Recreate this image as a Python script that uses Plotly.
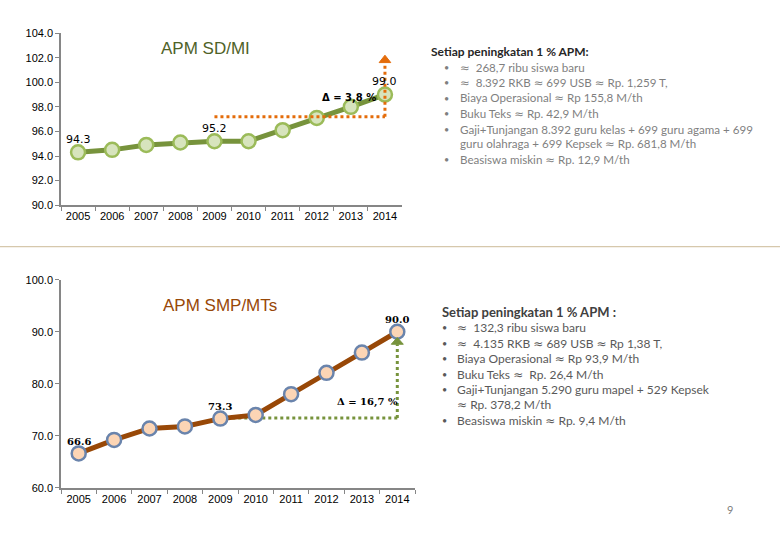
import plotly.graph_objects as go

W, H = 780, 540

years = ["2005", "2006", "2007", "2008", "2009", "2010", "2011", "2012", "2013", "2014"]
apm_sd = [94.3, 94.5, 94.9, 95.1, 95.2, 95.2, 96.1, 97.1, 98.0, 99.0]
apm_smp = [66.6, 69.2, 71.4, 71.8, 73.3, 74.0, 78.0, 82.1, 86.0, 90.0]

sd_labels = {"2005": "94.3", "2009": "95.2", "2014": "99.0"}
smp_labels = {"2005": "66.6", "2009": "73.3", "2014": "90.0"}

sd_delta_text = "<b>Δ = 3,8 %</b>"
smp_delta_text = "<b>Δ = 16,7 %</b>"

# reference (baseline) levels and arrow tops for the delta markers
sd_ref_level = 97.2
sd_arrow_base = 101.6
sd_arrow_tip = 102.2
smp_ref_level = 73.4
smp_arrow_base = 87.6
smp_arrow_tip = 88.9

sd_title = "APM SD/MI"
smp_title = "APM SMP/MTs"

sd_heading = "Setiap peningkatan 1 % APM:"
sd_items = [
    ("•", "≈  268,7 ribu siswa baru"),
    ("•", "≈  8.392 RKB ≈ 699 USB ≈ Rp. 1,259 T,"),
    ("•", "Biaya Operasional ≈ Rp 155,8 M/th"),
    ("•", "Buku Teks ≈ Rp. 42,9 M/th"),
    ("•", "Gaji+Tunjangan 8.392 guru kelas + 699 guru agama + 699"),
    ("", "guru olahraga + 699 Kepsek ≈ Rp. 681,8 M/th"),
    ("•", "Beasiswa miskin ≈ Rp. 12,9 M/th"),
]
smp_heading = "Setiap peningkatan 1 % APM :"
smp_items = [
    ("•", "≈  132,3 ribu siswa baru"),
    ("•", "≈  4.135 RKB ≈ 689 USB ≈ Rp 1,38 T,"),
    ("•", "Biaya Operasional ≈ Rp 93,9 M/th"),
    ("•", "Buku Teks ≈  Rp. 26,4 M/th"),
    ("•", "Gaji+Tunjangan 5.290 guru mapel + 529 Kepsek"),
    ("", "≈ Rp. 378,2 M/th"),
    ("•", "Beasiswa miskin ≈ Rp. 9,4 M/th"),
]
page_number = "9"


def px(x):
    return x / W


def py(y):
    return 1 - y / H


def approx_glyph(s):
    return s.replace("≈", "<span style=\"font-family:'DejaVu Sans'\">≈</span>")


fig = go.Figure()

SD_LINE = "#77933C"
SD_FILL = "#D7E4BD"
SD_EDGE = "#9BBB59"
SMP_LINE = "#984807"
SMP_FILL = "#FCD5B5"
SMP_EDGE = "#6A84AC"
ORANGE = "#E46C0A"
GREEN_DOT = "#77933C"

fig.add_trace(go.Scatter(
    x=years, y=apm_sd, mode="lines+markers", xaxis="x", yaxis="y",
    line=dict(color=SD_LINE, width=5),
    marker=dict(size=14, color=SD_FILL, line=dict(color=SD_EDGE, width=2.5)),
    showlegend=False, hoverinfo="skip"))

fig.add_trace(go.Scatter(
    x=years, y=apm_smp, mode="lines+markers", xaxis="x2", yaxis="y2",
    line=dict(color=SMP_LINE, width=5),
    marker=dict(size=14, color=SMP_FILL, line=dict(color=SMP_EDGE, width=2.5)),
    showlegend=False, hoverinfo="skip"))

last = len(years) - 1
i2009 = years.index("2009")

shapes = []
# top chart delta guide (orange dotted)
shapes.append(dict(type="line", xref="x", yref="y", x0=i2009, x1=last,
                   y0=sd_ref_level, y1=sd_ref_level,
                   line=dict(color=ORANGE, width=3, dash="dot"), layer="above"))
shapes.append(dict(type="line", xref="x", yref="y", x0=last, x1=last,
                   y0=sd_ref_level, y1=sd_arrow_base,
                   line=dict(color=ORANGE, width=3, dash="dot"), layer="above"))
shapes.append(dict(type="path", xref="x", yref="y",
                   path=f"M {last-0.17},{sd_arrow_base} L {last+0.17},{sd_arrow_base} L {last},{sd_arrow_tip} Z",
                   fillcolor=ORANGE, line=dict(color=ORANGE, width=1), layer="above"))
# bottom chart delta guide (green dotted)
shapes.append(dict(type="line", xref="x2", yref="y2", x0=i2009, x1=last,
                   y0=smp_ref_level, y1=smp_ref_level,
                   line=dict(color=GREEN_DOT, width=3, dash="dot"), layer="below"))
shapes.append(dict(type="line", xref="x2", yref="y2", x0=last, x1=last,
                   y0=smp_ref_level, y1=smp_arrow_base,
                   line=dict(color=GREEN_DOT, width=3, dash="dot"), layer="above"))
shapes.append(dict(type="path", xref="x2", yref="y2",
                   path=f"M {last-0.17},{smp_arrow_base} L {last+0.17},{smp_arrow_base} L {last},{smp_arrow_tip} Z",
                   fillcolor=GREEN_DOT, line=dict(color=GREEN_DOT, width=1), layer="above"))
# separator line across page
shapes.append(dict(type="line", xref="paper", yref="paper", x0=0, x1=1,
                   y0=py(246), y1=py(246), line=dict(color="#D6C8AC", width=1.2)))

annotations = []
for yr, t in sd_labels.items():
    i = years.index(yr)
    annotations.append(dict(x=i, y=apm_sd[i], xref="x", yref="y", text=t,
                            showarrow=False, yshift=13, xanchor="center", yanchor="middle",
                            font=dict(family="DejaVu Sans", size=11, color="#000000")))
for yr, t in smp_labels.items():
    i = years.index(yr)
    annotations.append(dict(x=i, y=apm_smp[i], xref="x2", yref="y2", text=f"<b>{t}</b>",
                            showarrow=False, yshift=12, xanchor="center", yanchor="middle",
                            font=dict(family="DejaVu Serif", size=10, color="#000")))
annotations.append(dict(x=7.95, y=98.73, xref="x", yref="y", text=sd_delta_text, showarrow=False,
                        xanchor="center", yanchor="middle",
                        font=dict(family="DejaVu Sans", size=10, color="#000")))
annotations.append(dict(x=8.15, y=76.4, xref="x2", yref="y2", text=smp_delta_text, showarrow=False,
                        xanchor="center", yanchor="middle",
                        font=dict(family="DejaVu Serif", size=10, color="#000")))

annotations.append(dict(x=px(205), y=py(43), xref="paper", yref="paper", text=sd_title, showarrow=False,
                        xanchor="center", yanchor="middle",
                        font=dict(family="Liberation Sans", size=17, color="#4F6228")))
annotations.append(dict(x=px(220), y=py(306), xref="paper", yref="paper", text=smp_title, showarrow=False,
                        xanchor="center", yanchor="middle",
                        font=dict(family="Liberation Sans", size=17, color="#984807")))

# text blocks
annotations.append(dict(x=px(429), y=py(47), xref="paper", yref="paper", text=f"<b>{sd_heading}</b>",
                        showarrow=False, xanchor="left", yanchor="middle",
                        font=dict(family="Lato", size=12, color="#262626")))
for k, (b, t) in enumerate(sd_items):
    yy = 63 + k * 15.7
    if b:
        annotations.append(dict(x=px(446), y=py(yy), xref="paper", yref="paper", text=b, showarrow=False,
                                xanchor="center", yanchor="middle",
                                font=dict(family="Lato", size=9, color="#7F7F7F")))
    annotations.append(dict(x=px(458), y=py(yy), xref="paper", yref="paper", text=approx_glyph(t),
                            showarrow=False, xanchor="left", yanchor="middle",
                            font=dict(family="Lato", size=11.6, color="#7F7F7F")))

annotations.append(dict(x=px(440), y=py(313), xref="paper", yref="paper", text=f"<b>{smp_heading}</b>",
                        showarrow=False, xanchor="left", yanchor="middle",
                        font=dict(family="Lato", size=13, color="#404040")))
for k, (b, t) in enumerate(smp_items):
    yy = 329 + k * 15.8
    if b:
        annotations.append(dict(x=px(444), y=py(yy), xref="paper", yref="paper", text=b, showarrow=False,
                                xanchor="center", yanchor="middle",
                                font=dict(family="Lato", size=9, color="#595959")))
    annotations.append(dict(x=px(455), y=py(yy), xref="paper", yref="paper", text=approx_glyph(t),
                            showarrow=False, xanchor="left", yanchor="middle",
                            font=dict(family="Lato", size=12, color="#595959")))

annotations.append(dict(x=px(730), y=py(515), xref="paper", yref="paper", text=page_number, showarrow=False,
                        xanchor="center", yanchor="middle",
                        font=dict(family="Lato", size=11, color="#808080")))

axis_common = dict(showgrid=False, zeroline=False, showline=True, linecolor="#868686", linewidth=1.5,
                   ticks="outside", ticklen=4, tickcolor="#868686",
                   tickfont=dict(family="Liberation Sans", size=11, color="#000"))

fig.update_layout(
    width=W, height=H, margin=dict(l=0, r=0, t=0, b=0),
    paper_bgcolor="white", plot_bgcolor="rgba(0,0,0,0)",
    xaxis=dict(domain=[px(61), px(402)], anchor="y", type="category", tickson="boundaries",
               categoryorder="array", categoryarray=years, range=[-0.5, 9.5], **axis_common),
    yaxis=dict(domain=[py(203.7), py(27.7)], anchor="x", range=[90, 104], dtick=2,
               tickformat=".1f", **axis_common),
    xaxis2=dict(domain=[px(61), px(415)], anchor="y2", type="category", tickson="boundaries",
                categoryorder="array", categoryarray=years, range=[-0.5, 9.5], **axis_common),
    yaxis2=dict(domain=[py(492.7), py(280)], anchor="x2", range=[60, 100], dtick=10,
                tickformat=".1f", **axis_common),
    shapes=shapes, annotations=annotations,
)

fig.write_html("out.html", config={"displayModeBar": False},
               post_script="document.body.style.margin='0';")
